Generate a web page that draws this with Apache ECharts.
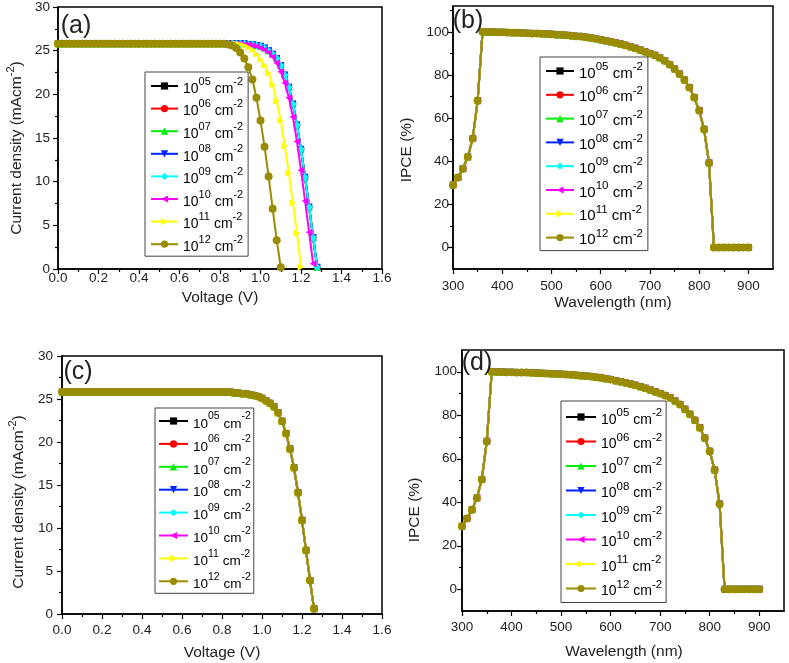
<!DOCTYPE html>
<html><head><meta charset="utf-8">
<script src="https://cdn.jsdelivr.net/npm/echarts@6/dist/echarts.min.js"></script>
<style>html,body{margin:0;padding:0;background:#fff}#c{width:789px;height:663px}</style>
</head><body><div id="c"></div>
<script>
// ---------- data ----------
const densityLabels = ['05','06','07','08','09','10','11','12'];
const seriesColors = ['#000000','#ff0000','#00ee00','#0022ff','#00ffff','#ff00ff','#ffff00','#9a8c00'];

const voltage = [0,0.02,0.04,0.06,0.08,0.1,0.12,0.14,0.16,0.18,0.2,0.22,0.24,0.26,0.28,0.3,0.32,0.34,0.36,0.38,
  0.4,0.42,0.44,0.46,0.48,0.5,0.52,0.54,0.56,0.58,0.6,0.62,0.64,0.66,0.68,0.7,0.72,0.74,0.76,0.78,
  0.8,0.82,0.84,0.86,0.88,0.9,0.92,0.94,0.96,0.98,1.0,1.02,1.04,1.06,1.08,1.1,1.12,1.14,1.16,1.18,
  1.2,1.22,1.24,1.26,1.28];

// panel (a): 1e5..1e9 cm^-2 (overlapping)
const jvLowDensity = [25.8,25.8,25.8,25.8,25.8,25.8,25.8,25.8,25.8,25.8,25.8,25.8,25.8,25.8,25.8,25.8,25.8,25.8,25.8,25.8,
  25.8,25.8,25.8,25.8,25.8,25.8,25.8,25.8,25.8,25.8,25.8,25.8,25.8,25.8,25.8,25.8,25.8,25.8,25.8,25.8,
  25.8,25.8,25.8,25.8,25.8,25.8,
  25.8,25.7,25.7,25.6,25.5,25.3,25.0,24.6,24.1,23.3,22.2,20.8,18.9,16.5,13.7,10.5,7.1,3.6,0.2];
// panel (a): 1e10
const jv1e10 = [25.8,25.8,25.8,25.8,25.8,25.8,25.8,25.8,25.8,25.8,25.8,25.8,25.8,25.8,25.8,25.8,25.8,25.8,25.8,25.8,
  25.8,25.8,25.8,25.8,25.8,25.8,25.8,25.8,25.8,25.8,25.8,25.8,25.8,25.8,25.8,25.8,25.8,25.8,25.8,25.8,
  25.8,25.8,25.8,25.8,25.8,
  25.8,25.7,25.7,25.6,25.5,25.3,25.1,24.8,24.3,23.6,22.6,21.3,19.6,17.4,14.6,11.3,7.8,4.2,0.6];
// panel (a): 1e11
const jv1e11 = [25.8,25.8,25.8,25.8,25.8,25.8,25.8,25.8,25.8,25.8,25.8,25.8,25.8,25.8,25.8,25.8,25.8,25.8,25.8,25.8,
  25.8,25.8,25.8,25.8,25.8,25.8,25.8,25.8,25.8,25.8,25.8,25.8,25.8,25.8,25.8,25.8,25.8,25.8,25.8,25.8,
  25.8,25.8,25.8,25.8,
  25.8,25.7,25.6,25.4,25.1,24.6,24.0,23.3,22.4,21.1,19.2,17.0,14.1,11.0,7.6,4.1,0.2];
// panel (a): 1e12
const jv1e12 = [25.8,25.8,25.8,25.8,25.8,25.8,25.8,25.8,25.8,25.8,25.8,25.8,25.8,25.8,25.8,25.8,25.8,25.8,25.8,25.8,
  25.8,25.8,25.8,25.8,25.8,25.8,25.8,25.8,25.8,25.8,25.8,25.8,25.8,25.8,25.8,25.8,25.8,25.8,25.8,25.8,
  25.8,25.8,
  25.7,25.6,25.3,24.8,24.1,23.1,21.7,19.6,17.0,14.0,10.6,6.9,3.3,0.2];
// panel (c): all densities overlap
const jvPanelC = [25.8,25.8,25.8,25.8,25.8,25.8,25.8,25.8,25.8,25.8,25.8,25.8,25.8,25.8,25.8,25.8,25.8,25.8,25.8,25.8,
  25.8,25.8,25.8,25.8,25.8,25.8,25.8,25.8,25.8,25.8,25.8,25.8,25.8,25.8,25.8,25.8,25.8,25.8,25.8,25.8,
  25.8,25.8,25.8,
  25.7,25.7,25.6,25.6,25.5,25.4,25.3,25.1,24.8,24.5,24.1,23.4,22.4,21.0,19.2,17.0,14.1,10.9,7.4,3.9,0.6];

const wavelength = [300,310,320,330,340,350,360,370,380,390,400,410,420,430,440,450,460,470,480,490,
  500,510,520,530,540,550,560,570,580,590,600,610,620,630,640,650,660,670,680,690,
  700,710,720,730,740,750,760,770,780,790,800,810,820,830,840,850,860,870,880,890,900];
// IPCE, same for all densities (panels b and d)
const ipce = [29.0,32.5,36.5,42.0,50.5,68.0,100,99.9,99.9,99.8,99.8,99.7,99.6,99.6,99.5,99.4,99.3,99.2,99.1,99.0,
  98.9,98.7,98.6,98.4,98.2,98.0,97.8,97.5,97.2,96.8,96.4,95.9,95.4,94.9,94.4,93.8,93.1,92.4,91.6,90.8,
  90.0,89.1,88.0,86.6,84.9,82.8,80.5,77.7,74.2,69.5,63.5,54.8,39.2,0,0,0,0,0,0,0,0];

const ipceMajorTicks = [0,20,40,60,80,100];
const wlMajorTicks = [300,400,500,600,700,800,900];
const wlMinorTicks = [350,450,550,650,750,850];

// ---------- styling ----------
const FONT = '"Liberation Sans", Arial, sans-serif';
const TXT = '#222';
const symbols = ['rect','circle','triangle','path://M0,0L10,0L5,9Z','diamond','path://M9,0L9,10L0,5Z','path://M0,0L0,10L9,5Z','circle'];
const symbolSizes = [6,7,7,7,8,7,7,8];

const chart = echarts.init(document.getElementById('c'));

const grids = [
  {left:58, top:7, width:324, height:262},
  {left:453, top:6, width:320, height:263},
  {left:62, top:356, width:320, height:258},
  {left:462, top:350, width:322, height:261}
].map(g => Object.assign({show:true, borderColor:'#000', borderWidth:1.5, backgroundColor:'transparent', containLabel:false}, g));

function valueAxis(extra){
  return Object.assign({
    type:'value', splitLine:{show:false},
    axisLine:{show:true, onZero:false, lineStyle:{color:'#000', width:1.5}},
    axisTick:{show:true, inside:false, length:5, lineStyle:{color:'#000', width:1.2}},
    axisLabel:{color:TXT, fontSize:13.5, fontFamily:FONT}
  }, extra);
}
function minorAxis(extra, ticks){
  return Object.assign({
    type:'value', splitLine:{show:false},
    axisLine:{show:false, onZero:false},
    axisLabel:{show:false},
    axisTick:{show:true, length:3, customValues:ticks, lineStyle:{color:'#000', width:1.2}}
  }, extra);
}
const voltFmt = v => v.toFixed(1);
const minorV = {show:true, splitNumber:2, length:3, lineStyle:{color:'#000', width:1.2}};

const xAxis = [
  valueAxis({gridIndex:0, min:0, max:1.6, interval:0.2, minorTick:minorV, axisLabel:{color:TXT, fontSize:13.5, fontFamily:FONT, margin:2, formatter:voltFmt}}),
  valueAxis({gridIndex:1, min:300, max:950, axisTick:{show:true, length:5, customValues:wlMajorTicks, lineStyle:{color:'#000', width:1.2}}, axisLabel:{color:TXT, fontSize:13.5, fontFamily:FONT, margin:10, customValues:wlMajorTicks}}),
  minorAxis({gridIndex:1, min:300, max:950, position:'bottom'}, wlMinorTicks),
  valueAxis({gridIndex:2, min:0, max:1.6, interval:0.2, minorTick:minorV, axisLabel:{color:TXT, fontSize:13.5, fontFamily:FONT, margin:9, formatter:voltFmt}}),
  valueAxis({gridIndex:3, min:300, max:950, axisTick:{show:true, length:5, customValues:wlMajorTicks, lineStyle:{color:'#000', width:1.2}}, axisLabel:{color:TXT, fontSize:13.5, fontFamily:FONT, margin:9, customValues:wlMajorTicks}}),
  minorAxis({gridIndex:3, min:300, max:950, position:'bottom'}, wlMinorTicks)
];
const yAxis = [
  valueAxis({gridIndex:0, min:0, max:30, interval:5, minorTick:minorV, axisLabel:{color:TXT, fontSize:13.5, fontFamily:FONT, margin:8}}),
  valueAxis({gridIndex:1, min:-10, max:112, axisTick:{show:true, length:5, customValues:ipceMajorTicks, lineStyle:{color:'#000', width:1.2}}, axisLabel:{color:TXT, fontSize:13.5, fontFamily:FONT, margin:4, customValues:ipceMajorTicks}}),
  minorAxis({gridIndex:1, min:-10, max:112, position:'left', offset:0}, [10,30,50,70,90,110]),
  valueAxis({gridIndex:2, min:0, max:30, interval:5, minorTick:minorV, axisLabel:{color:TXT, fontSize:13.5, fontFamily:FONT, margin:9}}),
  valueAxis({gridIndex:3, min:-10, max:110, axisTick:{show:true, length:5, customValues:ipceMajorTicks, lineStyle:{color:'#000', width:1.2}}, axisLabel:{color:TXT, fontSize:13.5, fontFamily:FONT, margin:5, customValues:ipceMajorTicks}}),
  minorAxis({gridIndex:3, min:-10, max:110, position:'left', offset:0}, [10,30,50,70,90])
];

function pairs(xs, ys){ return ys.map((y,i)=>[xs[i], y]); }

const panelA = [jvLowDensity,jvLowDensity,jvLowDensity,jvLowDensity,jvLowDensity,jv1e10,jv1e11,jv1e12];
const series = [];
function addPanel(prefix, xi, yi, xs, ysList){
  densityLabels.forEach((lab,k)=>{
    series.push({
      name: prefix + lab, type:'line', xAxisIndex:xi, yAxisIndex:yi,
      data: pairs(xs, ysList[k]),
      symbol: symbols[k], symbolSize: symbolSizes[k], showSymbol:true, showAllSymbol:true,
      color: seriesColors[k],
      lineStyle:{width:2, color:seriesColors[k]},
      itemStyle:{color:seriesColors[k], borderWidth:0},
      animation:false, z:2+k*0.01
    });
  });
}
addPanel('a', 0, 0, voltage, panelA);
addPanel('b', 1, 1, wavelength, densityLabels.map(()=>ipce));
addPanel('c', 3, 3, voltage, densityLabels.map(()=>jvPanelC));
addPanel('d', 4, 4, wavelength, densityLabels.map(()=>ipce));

function legend(prefix, left, top, opt){
  const fs = opt.fs, sfs = opt.sfs;
  return {
    show:true, orient:'vertical', left:left, top:top,
    data: densityLabels.map(l=>prefix+l),
    itemWidth:opt.iw, itemHeight:9, itemGap:opt.gap,
    padding:opt.pad, backgroundColor:'#fff', borderColor:'#444', borderWidth:1, borderRadius:0,
    selectedMode:false,
    formatter: n => '{b|10}{s|' + n.slice(1) + '}{b| cm}{s|-2}',
    textStyle:{ color:'#000', fontFamily:FONT,
      rich:{ b:{fontSize:fs, fontFamily:FONT, color:'#000', lineHeight:20, verticalAlign:'bottom'},
             s:{fontSize:sfs, fontFamily:FONT, color:'#000', lineHeight:20, verticalAlign:'top'} } }
  };
}
const legends = [
  legend('a', 145, 72, {fs:14, sfs:11, iw:27, gap:2.6, pad:[4,5,2,5]}),
  legend('b', 540, 57, {fs:15, sfs:11.5, iw:28, gap:3.8, pad:[4,5,3,5]}),
  legend('c', 155, 408, {fs:13.5, sfs:10.5, iw:29, gap:2.9, pad:[3,3,2,3]}),
  legend('d', 561, 401, {fs:14, sfs:11.5, iw:30, gap:4.5, pad:[6,4,4,4]})
];

function txt(x, y, text, size, rot, rich){
  const el = {type:'text', x:x, y:y, rotation:rot||0, z:10,
    style:{text:text, fontSize:size, fontFamily:FONT, fill:'#222', align:'center', verticalAlign:'middle'}};
  if (rich) el.style.rich = rich;
  return el;
}
const titleRich = { t:{fontSize:15.5, fontFamily:FONT, fill:'#222', lineHeight:20, verticalAlign:'bottom'},
                    s:{fontSize:11, fontFamily:FONT, fill:'#222', lineHeight:20, verticalAlign:'top'} };
const graphic = [
  txt(76, 26, '(a)', 25),
  txt(468, 21, '(b)', 25),
  txt(78, 372, '(c)', 25),
  txt(477, 363, '(d)', 25),
  txt(220, 298, 'Voltage (V)', 15.5),
  txt(613, 303, 'Wavelength (nm)', 15.5),
  txt(222, 653, 'Voltage (V)', 15.5),
  txt(624, 652, 'Wavelength (nm)', 15.5),
  txt(15, 148, '{t|Current density (mAcm}{s|-2}{t|)}', 15.5, Math.PI/2, titleRich),
  txt(17, 502, '{t|Current density (mAcm}{s|-2}{t|)}', 15.5, Math.PI/2, titleRich),
  txt(407, 150, 'IPCE (%)', 15.5, Math.PI/2),
  txt(415, 510, 'IPCE (%)', 15.5, Math.PI/2)
];

chart.setOption({
  animation:false,
  backgroundColor:'#fff',
  grid:grids, xAxis:xAxis, yAxis:yAxis, series:series, legend:legends, graphic:graphic
});
</script></body></html>
